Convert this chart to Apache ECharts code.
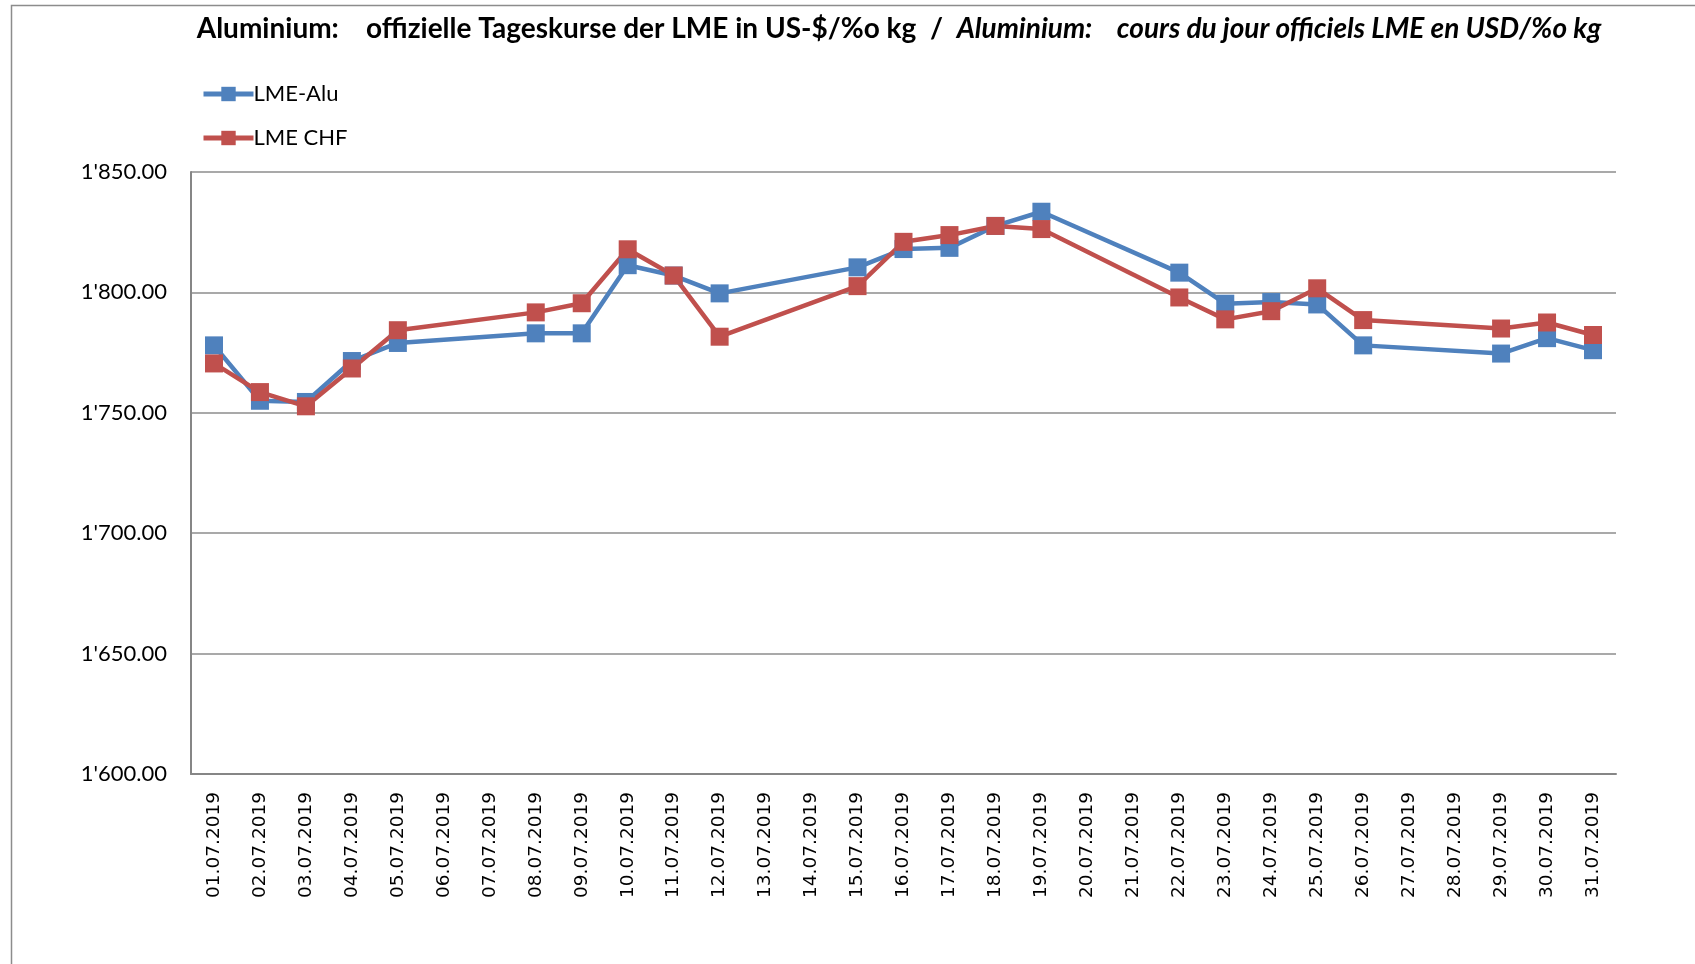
<!DOCTYPE html>
<html>
<head>
<meta charset="utf-8">
<title>Aluminium LME</title>
<script src="https://cdn.jsdelivr.net/npm/echarts@6/dist/echarts.min.js"></script>
<style>
  html, body { margin: 0; padding: 0; background: #fff; }
  #chart { width: 1695px; height: 964px; }
</style>
</head>
<body>
<div id="chart"></div>
<script>
// Tage im Juli 2019 (Wochenenden ohne Kurs -> null)
const days = [
  "01.07.2019", "02.07.2019", "03.07.2019", "04.07.2019", "05.07.2019", "06.07.2019", "07.07.2019",
  "08.07.2019", "09.07.2019", "10.07.2019", "11.07.2019", "12.07.2019", "13.07.2019", "14.07.2019",
  "15.07.2019", "16.07.2019", "17.07.2019", "18.07.2019", "19.07.2019", "20.07.2019", "21.07.2019",
  "22.07.2019", "23.07.2019", "24.07.2019", "25.07.2019", "26.07.2019", "27.07.2019", "28.07.2019",
  "29.07.2019", "30.07.2019", "31.07.2019"
];

const lmeAlu = [
  1778, 1755, 1754.5, 1771.5, 1779, null, null,
  1783, 1783, 1811.3, 1807, 1799.6, null, null,
  1810.4, 1818, 1818.5, 1827.6, 1833.5, null, null,
  1808.2, 1795.3, 1796, 1795, 1778, null, null,
  1774.6, 1781, 1776
];

const lmeChf = [
  1770.5, 1758.6, 1752.7, 1768.4, 1784.3, null, null,
  1791.7, 1795.5, 1817.9, 1807, 1781.6, null, null,
  1802.6, 1821, 1823.8, 1827.6, 1826.3, null, null,
  1797.9, 1788.8, 1792.2, 1801.7, 1788.5, null, null,
  1785, 1787.5, 1782.3
];

const yMin = 1600, yMax = 1850, yStep = 50;

function swissFmt(v) {
  const s = v.toFixed(2);
  const parts = s.split(".");
  return parts[0].replace(/\B(?=(\d{3})+(?!\d))/g, "'") + "." + parts[1];
}

const chart = echarts.init(document.getElementById("chart"));

const option = {
  backgroundColor: "#ffffff",
  animation: false,
  graphic: [{
    type: "rect",
    left: 9, top: 3,
    shape: { width: 2000, height: 1200 },
    style: { fill: "none", stroke: "#8c8c8c", lineWidth: 1.5 },
    silent: true
  }],
  title: {
    text: "{b|Aluminium:    offizielle Tageskurse der LME in US-$/%o kg  /  }{i|Aluminium:    cours du jour officiels LME en USD/%o kg}",
    left: 894, top: 10,
    textAlign: "center",
    textStyle: {
      rich: {
        b: { fontFamily: "Lato", fontWeight: "bold", fontSize: 28, color: "#000" },
        i: { fontFamily: "Lato", fontWeight: "bold", fontStyle: "italic", fontSize: 28, color: "#000" }
      }
    }
  },
  legend: {
    orient: "vertical",
    left: 196, top: 78,
    itemGap: 22,
    itemWidth: 50, itemHeight: 18,
    lineStyle: { width: 5 },
    textStyle: { fontFamily: "Lato", fontSize: 22, color: "#000", padding: [0, 0, 0, -5] },
    data: ["LME-Alu", "LME CHF"]
  },
  grid: { left: 191, right: 79, top: 172, bottom: 190 },
  xAxis: {
    type: "category",
    data: days,
    boundaryGap: true,
    axisLine: { lineStyle: { color: "#868686", width: 2 } },
    axisTick: { show: false },
    axisLabel: {
      rotate: 90, interval: 0, margin: 18,
      fontFamily: "DejaVu Sans", fontSize: 18.5, color: "#000"
    }
  },
  yAxis: {
    type: "value",
    min: yMin, max: yMax, interval: yStep,
    axisLine: { show: true, lineStyle: { color: "#868686", width: 2 } },
    axisTick: { show: false },
    splitLine: { lineStyle: { color: "#8c8c8c", width: 1.5 } },
    axisLabel: {
      margin: 24,
      fontFamily: "Lato", fontSize: 22, color: "#000",
      formatter: swissFmt
    }
  },
  series: [
    {
      name: "LME-Alu",
      type: "line",
      data: lmeAlu,
      connectNulls: true,
      symbol: "rect",
      symbolSize: 18,
      color: "#4F81BD",
      lineStyle: { width: 4.5, color: "#4F81BD" },
      itemStyle: { color: "#4F81BD" }
    },
    {
      name: "LME CHF",
      type: "line",
      data: lmeChf,
      connectNulls: true,
      symbol: "rect",
      symbolSize: 18,
      color: "#C0504D",
      lineStyle: { width: 4.5, color: "#C0504D" },
      itemStyle: { color: "#C0504D" }
    }
  ]
};

chart.setOption(option);
</script>
</body>
</html>
